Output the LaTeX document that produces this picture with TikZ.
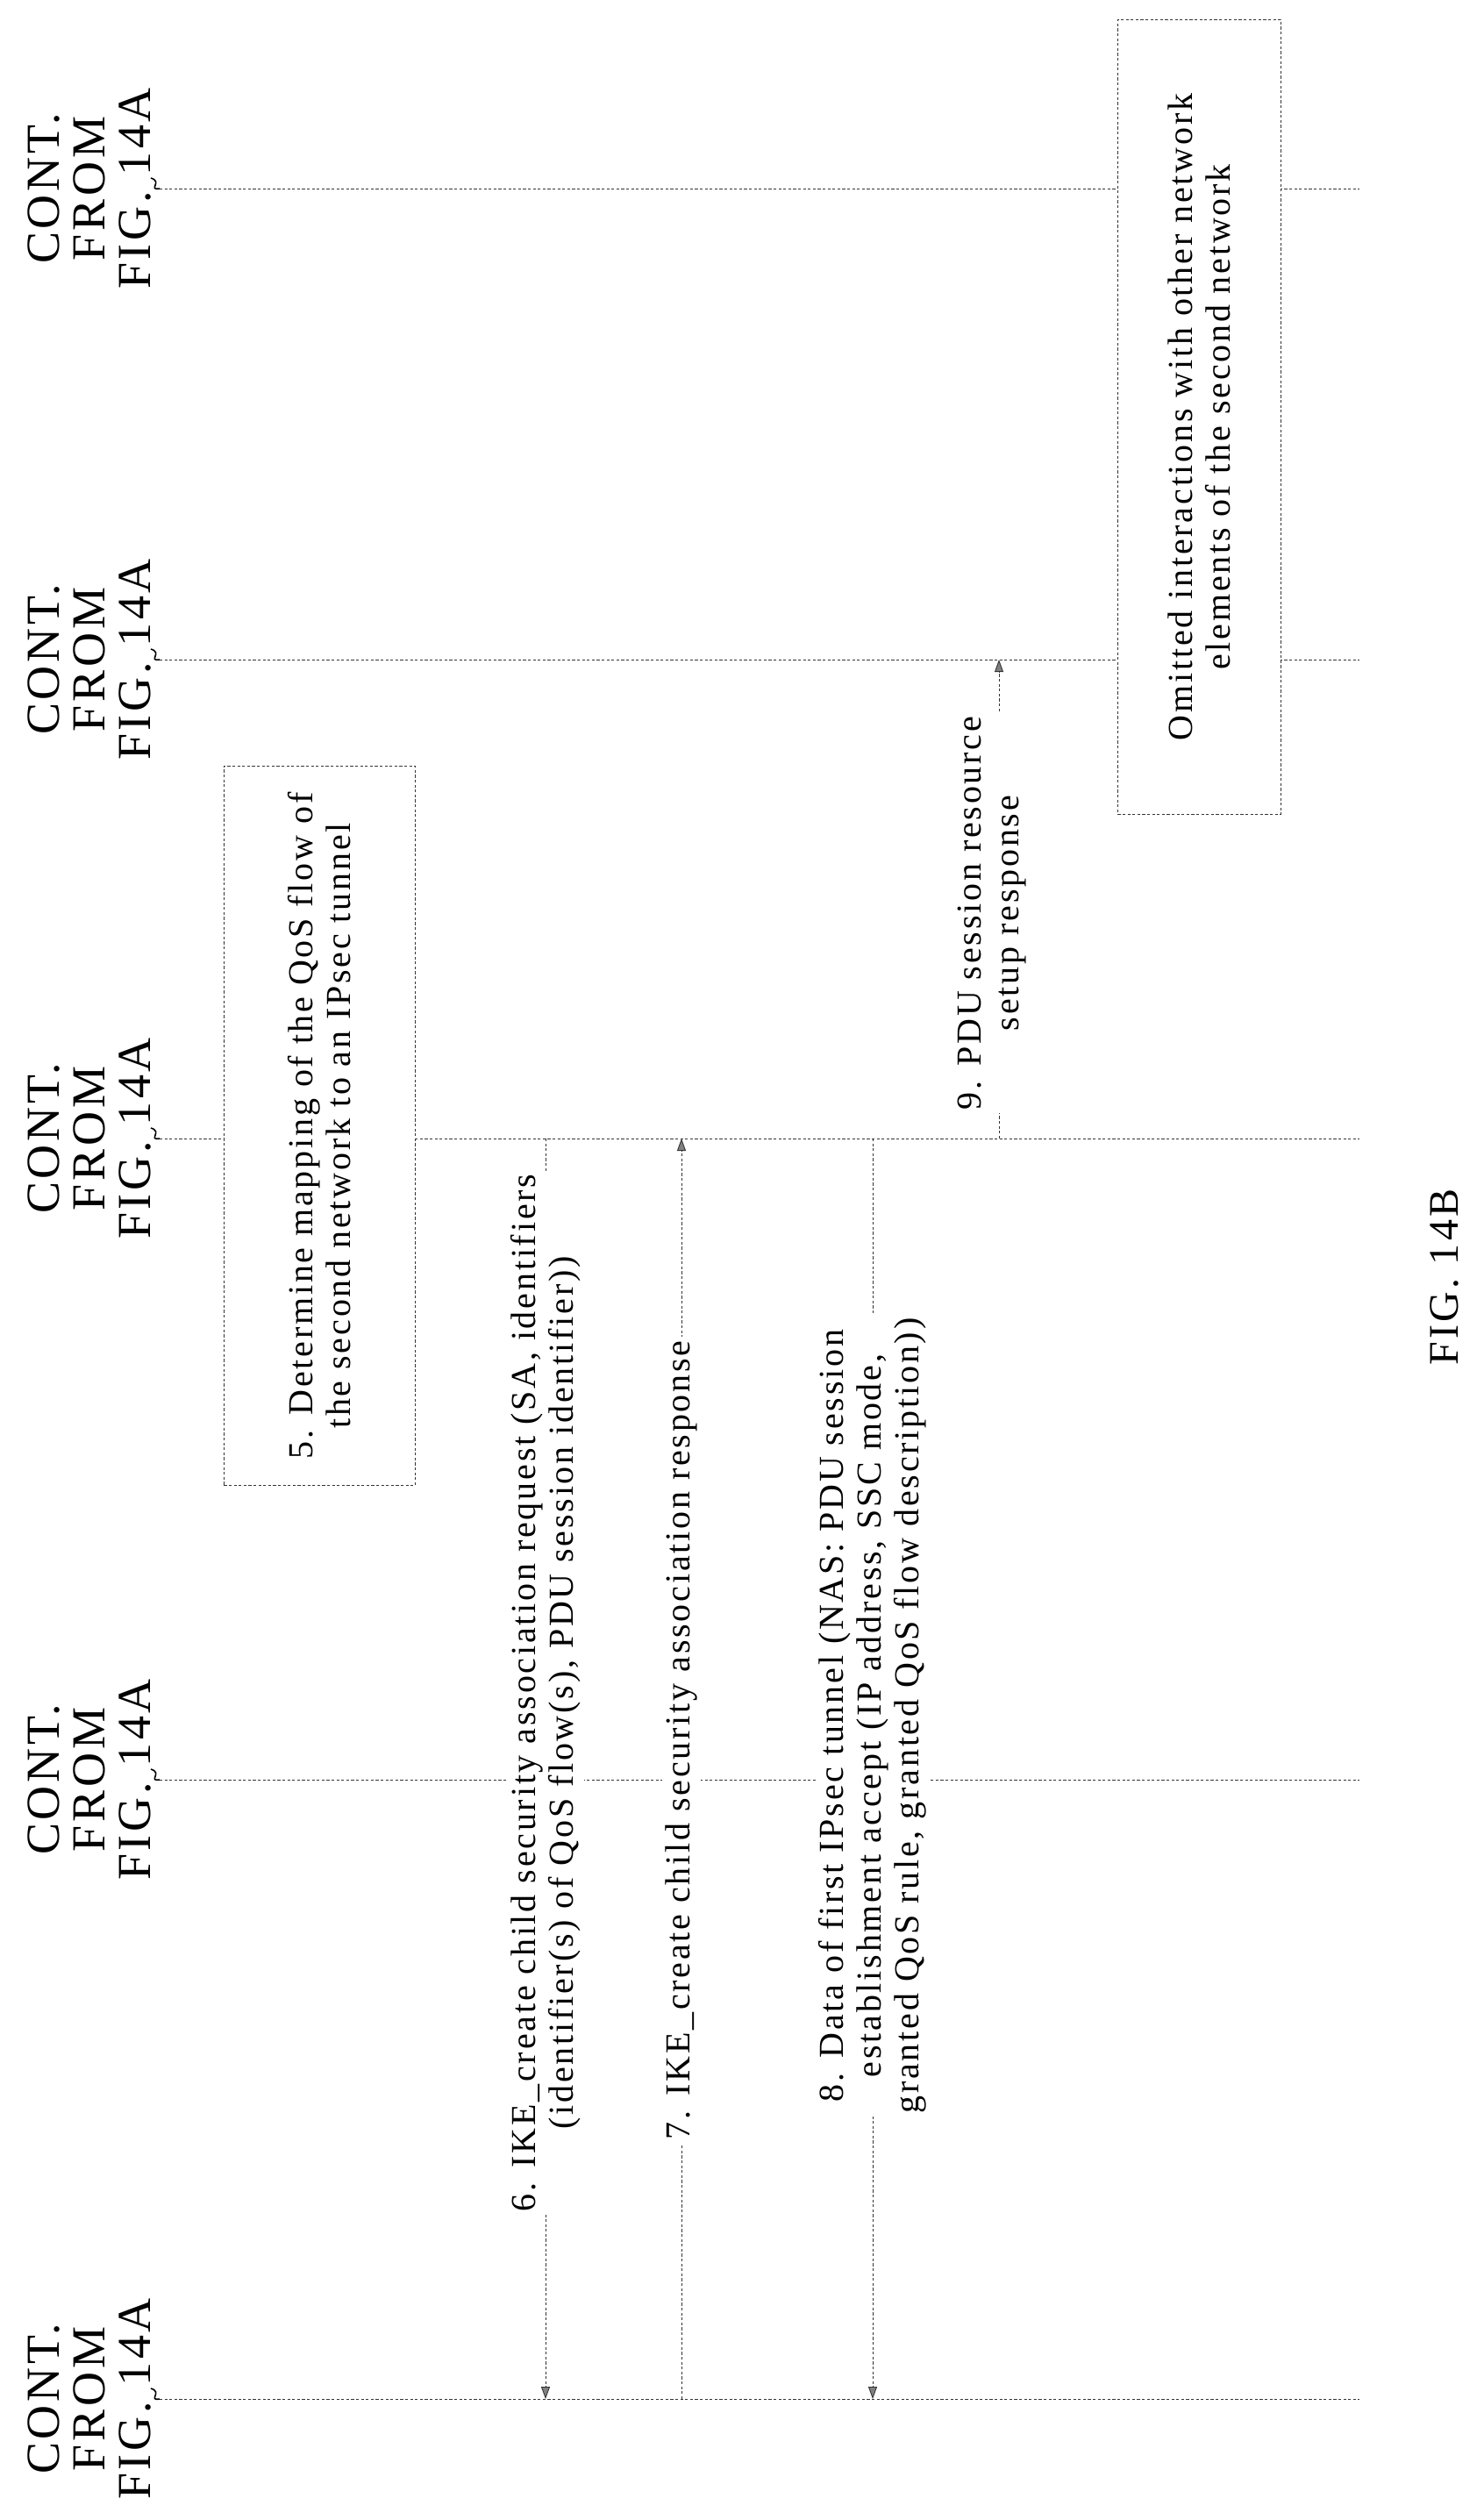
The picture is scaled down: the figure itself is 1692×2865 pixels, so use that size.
\documentclass[tikz,border=0pt]{standalone}
\usepackage{fontspec}
\setmainfont{Liberation Serif}
\newfontfamily\spacedserif[LetterSpace=7]{Liberation Serif}
\usetikzlibrary{arrows.meta}
\begin{document}
\begin{tikzpicture}[x=0.5pt,y=-0.5pt,
  dl/.style={line width=0.45pt,dash pattern=on 1.6pt off 1.2pt,black!80},
  msg/.style={dl,-{Triangle[length=7pt,width=5pt,fill=black!50]}},
  tx/.style={rotate=90,align=center,font=\spacedserif\fontsize{20}{21.5}\selectfont},
  lab/.style={tx,fill=white,inner sep=2pt},
  cont/.style={rotate=90,align=center,font=\spacedserif\fontsize{27}{26}\selectfont,inner sep=0pt},
  box/.style={dl,draw,fill=white}]
\useasboundingbox (0,0) rectangle (1692,2865);
% lifelines
\foreach \n/\y in {a/2735,b/2029,c/1298,d/752,e/215}{
  \coordinate (\n0) at (182,\y);
  \coordinate (\n1) at (1550,\y);
  \draw[dl] (\n0) -- (\n1);
  \node[cont] (t\n) at (102,\y) {CONT.\\FROM\\FIG. 14A};
  \draw[line width=0.8pt] (172,\y-12) .. controls (186,\y-8) and (168,\y+2) .. (\n0);
}
% boxes
\node[box,minimum width=109pt,minimum height=410pt,anchor=north west,inner sep=0pt] (box5) at (255,873) {};
\node[tx] (t5) at (box5.center) {5. Determine mapping of the QoS flow of\\the second network to an IPsec tunnel};
\node[box,minimum width=93pt,minimum height=453pt,anchor=north west,inner sep=0pt] (boxo) at (1274,22) {};
\node[tx] (to) at (boxo.center) {Omitted interactions with other network\\elements of the second network};
% messages
\coordinate (s6) at (622,1298); \coordinate (e6) at (622,2735);
\draw[msg] (s6) -- (e6);
\node[lab] (l6) at (622,1930) {6. IKE\_create child security association request (SA, identifiers\\(identifier(s) of QoS flow(s), PDU session identifier))};
\coordinate (s7) at (777,2735); \coordinate (e7) at (777,1298);
\draw[msg] (s7) -- (e7);
\node[lab] (l7) at (777,1984) {7. IKE\_create child security association response};
\coordinate (s8) at (995,1298); \coordinate (e8) at (995,2735);
\draw[msg] (s8) -- (e8);
\node[lab] (l8) at (995,1956) {8. Data of first IPsec tunnel (NAS: PDU session\\establishment accept (IP address, SSC mode,\\granted QoS rule, granted QoS flow description))};
\coordinate (s9) at (1139,1298); \coordinate (e9) at (1139,752);
\draw[msg] (s9) -- (e9);
\node[lab] (l9) at (1131,1041) {9. PDU session resource\\setup response};
\node[rotate=90,font=\spacedserif\fontsize{24}{25}\selectfont] (fig) at (1647,1456) {FIG. 14B};
\end{tikzpicture}
\end{document}
